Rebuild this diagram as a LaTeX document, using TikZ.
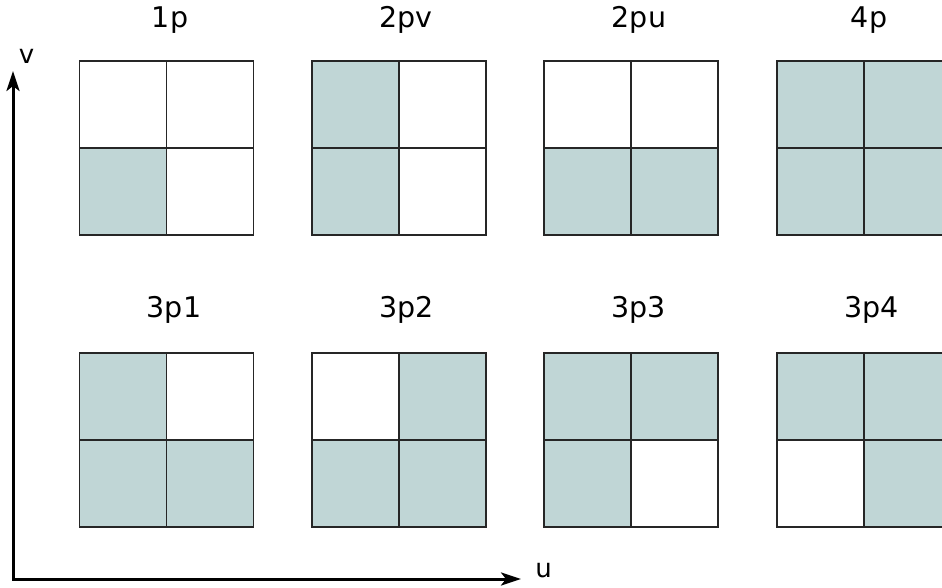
\documentclass[tikz,border=0pt]{standalone}
\usepackage{fontspec}
\setmainfont{DejaVu Sans}
\usetikzlibrary{arrows.meta}
\definecolor{cellfill}{RGB}{192,214,214}
\newcommand\drawquad[7]{%
  \node[cell,#4] (#1-tl) at (#2+43.5,#3+43.5) {};
  \node[cell,#5] (#1-tr) at (#2+130.5,#3+43.5) {};
  \node[cell,#6] (#1-bl) at (#2+43.5,#3+130.5) {};
  \node[cell,#7] (#1-br) at (#2+130.5,#3+130.5) {};
  \draw[gridline] (#1-tl.north west) rectangle (#1-br.south east);
  \draw[gridline] (#1-tl.north east) -- (#1-br.south west);
  \draw[gridline] (#1-tl.south west) -- (#1-br.north east);
}
\begin{document}
\begin{tikzpicture}[x=1pt,y=-1pt,
  cell/.style={minimum size=87pt, inner sep=0pt, outer sep=0pt, fill=white},
  gridline/.style={draw=black!85, line width=1.8pt},
  on/.style={fill=cellfill},
  off/.style={fill=white},
  lbl/.style={font=\fontsize{28.5}{34}\selectfont, anchor=base, inner sep=0pt},
  axlbl/.style={font=\fontsize{26}{30}\selectfont, inner sep=0pt},
  axis/.style={line width=3pt, {Stealth[length=20pt,width=13pt,inset=5pt]}-{Stealth[length=20pt,width=13pt,inset=5pt]}}]
\useasboundingbox (0,0) rectangle (942,587);
% row 1
\drawquad{g1p}{79.5}{61.3}{off}{off}{on}{off}
\drawquad{g2pv}{312}{61.3}{on}{off}{on}{off}
\drawquad{g2pu}{544.3}{61.3}{off}{off}{on}{on}
\drawquad{g4p}{776.7}{61.3}{on}{on}{on}{on}
% row 2
\drawquad{g3p1}{79.5}{352.7}{on}{off}{on}{on}
\drawquad{g3p2}{312}{352.7}{off}{on}{on}{on}
\drawquad{g3p3}{544.3}{352.7}{on}{on}{on}{off}
\drawquad{g3p4}{776.7}{352.7}{on}{on}{off}{on}
% labels
\node[lbl] (l1p) at (170,27) {1p};
\node[lbl] (l2pv) at (406,27) {2pv};
\node[lbl] (l2pu) at (639,27) {2pu};
\node[lbl] (l4p) at (869,27) {4p};
\node[lbl] (l3p1) at (174,317) {3p1};
\node[lbl] (l3p2) at (406.6,317) {3p2};
\node[lbl] (l3p3) at (638.6,317) {3p3};
\node[lbl] (l3p4) at (871.6,317) {3p4};
% axes
\coordinate (o) at (13,579);
\coordinate (vtip) at (13,71);
\coordinate (utip) at (521,579);
\draw[axis] (vtip) -- (o) -- (utip);
\node[axlbl] (v) at (26.5,56) {v};
\node[axlbl] (u) at (543.5,570) {u};
\end{tikzpicture}
\end{document}
